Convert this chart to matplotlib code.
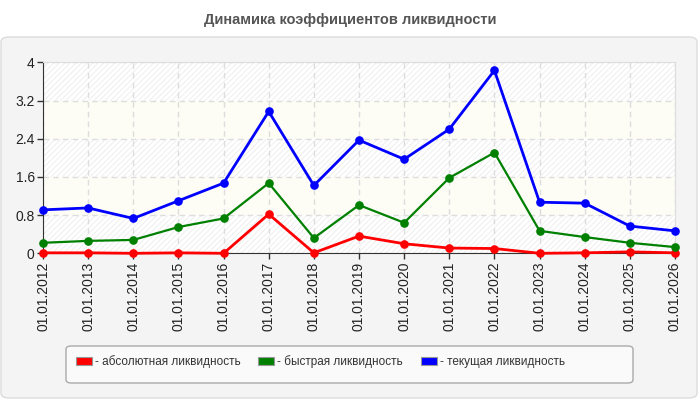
import matplotlib
matplotlib.use("Agg")
import matplotlib.pyplot as plt
from matplotlib.patches import FancyBboxPatch, Patch
import numpy as np

plt.rcParams['font.family'] = ['Liberation Sans', 'DejaVu Sans']
plt.rcParams['hatch.linewidth'] = 0.6

dates = ["01.01.2012", "01.01.2013", "01.01.2014", "01.01.2015", "01.01.2016",
         "01.01.2017", "01.01.2018", "01.01.2019", "01.01.2020", "01.01.2021",
         "01.01.2022", "01.01.2023", "01.01.2024", "01.01.2025", "01.01.2026"]
absolute = [0.01, 0.01, 0.0, 0.01, 0.0, 0.82, 0.01, 0.36, 0.20, 0.11, 0.10, 0.0, 0.01, 0.03, 0.01]
quick = [0.22, 0.26, 0.28, 0.55, 0.73, 1.47, 0.32, 1.01, 0.64, 1.58, 2.11, 0.47, 0.34, 0.22, 0.13]
current = [0.91, 0.95, 0.73, 1.10, 1.47, 2.97, 1.42, 2.37, 1.97, 2.60, 3.83, 1.07, 1.05, 0.57, 0.47]
yticks = [0, 0.8, 1.6, 2.4, 3.2, 4]
ytick_labels = ["0", "0.8", "1.6", "2.4", "3.2", "4"]
series_names = ["- абсолютная ликвидность", "- быстрая ликвидность", "- текущая ликвидность"]
colors = ["#ff0000", "#008000", "#0000ff"]

W, H = 700, 400
fig = plt.figure(figsize=(7, 4), dpi=100, facecolor="white")

# panel background
panel = FancyBboxPatch((1 / W, 1 - 398 / H), 696 / W, 361 / H,
                       boxstyle="round,pad=0,rounding_size=0.012",
                       transform=fig.transFigure, facecolor="#f4f4f4",
                       edgecolor="#dcdcdc", linewidth=1.0, zorder=-5)
fig.patches.append(panel)

# legend box
legbox = FancyBboxPatch((66 / W, 1 - 383 / H), 567 / W, 37 / H,
                        boxstyle="round,pad=0,rounding_size=0.008",
                        transform=fig.transFigure, facecolor="#fafafa",
                        edgecolor="#aaaaaa", linewidth=1.0, zorder=-4)
fig.patches.append(legbox)

fig.text(0.5, 1 - 20 / H, "Динамика коэффициентов ликвидности", ha="center", va="center",
         fontsize=10.5, fontweight="bold", color="#555555")

ax = fig.add_axes([43 / W, 1 - 253.3 / H, (675 - 43) / W, (253.3 - 62.3) / H])
ax.set_facecolor("none")
x = np.arange(len(dates))

# alternating bands
for i in range(len(yticks) - 1):
    if i % 2 == 0:
        ax.axhspan(yticks[i], yticks[i + 1], facecolor="white", edgecolor="#ececec",
                   hatch="//////", linewidth=0, zorder=0)
    else:
        ax.axhspan(yticks[i], yticks[i + 1], facecolor="#fdfdf6", linewidth=0, zorder=0)

for vals, c, lw in zip([absolute, quick, current], colors, [2.0, 1.6, 2.0]):
    ax.plot(x, vals, color=c, linewidth=lw, marker="o", markersize=5.2, zorder=3,
            clip_on=False)

ax.set_xlim(0, len(dates) - 1)
ax.set_ylim(0, 4)
ax.set_yticks(yticks)
ax.set_yticklabels(ytick_labels)
ax.set_xticks(x)
ax.set_xticklabels(dates, rotation=90)
ax.grid(True, color="#dddddd", linestyle=(0, (4, 3)), linewidth=1.0, zorder=1)
ax.set_axisbelow(True)
ax.tick_params(axis="both", colors="#333333", labelcolor="#222222", labelsize=10,
               length=4, width=1)
ax.tick_params(axis="x", pad=2)
ax.tick_params(axis="y", pad=2)
for s in ["left", "bottom"]:
    ax.spines[s].set_color("#333333")
for s in ["top", "right"]:
    ax.spines[s].set_color("#dddddd")

handles = [Patch(facecolor=c, edgecolor="#999999", linewidth=0.8) for c in colors]
leg = fig.legend(handles, series_names, loc="center left", ncol=3,
                 bbox_to_anchor=(76 / W, 1 - 362 / H),
                 frameon=False, fontsize=8.5, handlelength=1.35,
                 handleheight=0.68, handletextpad=0.25, borderaxespad=0,
                 borderpad=0, columnspacing=1.5, labelcolor="#333333")

fig.savefig("out.png", dpi=100, facecolor="white")
